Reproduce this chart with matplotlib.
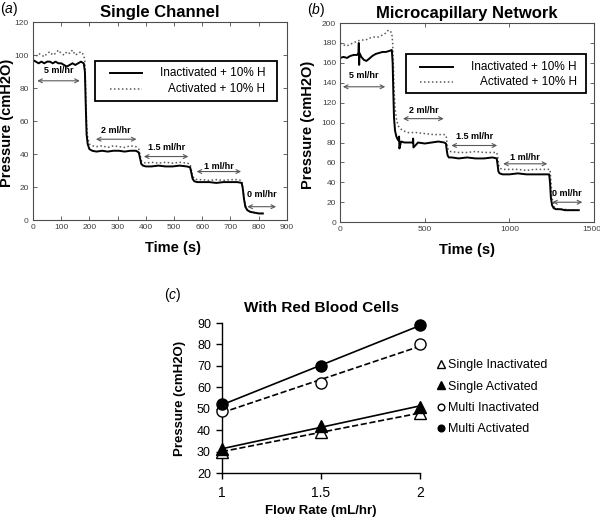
import matplotlib
matplotlib.use("Agg")
import matplotlib.pyplot as plt
import matplotlib.transforms as mtransforms
import numpy as np
from matplotlib.patches import Rectangle

plt.rcParams["font.family"] = ["Liberation Sans", "DejaVu Sans"]
plt.rcParams["mathtext.fontset"] = "custom"
plt.rcParams["mathtext.rm"] = "Liberation Sans"
plt.rcParams["mathtext.it"] = "Liberation Sans:italic"

NARROW = ["Liberation Sans Narrow", "Liberation Sans", "DejaVu Sans"]

# ---------------- (a) single channel ----------------
t_a = [0, 10, 20, 30, 40, 50, 60, 70, 80, 90, 100, 110, 120, 130, 140, 150, 160, 170, 180,
       184, 187, 190, 194, 200, 210, 225, 245, 265, 285, 305, 325, 345, 365,
       375, 379, 384, 390, 400, 420, 445, 470, 495, 520, 545,
       557, 561, 566, 572, 582, 600, 625, 650, 675, 700, 725,
       740, 744, 748, 753, 760, 770, 785, 800, 815]
inact_a = [97, 96, 95, 96, 95, 96, 96, 95, 96, 95, 95, 94, 93, 94, 95, 94, 95, 96, 95,
           90, 70, 52, 46, 43, 42, 41.5, 42, 41.5, 42, 42, 41.5, 42, 42,
           41, 38, 34, 33, 32.5, 32.5, 33, 32.5, 32.5, 33, 32.5,
           32, 29, 25, 23.5, 23, 23, 23, 22.5, 23, 23, 23,
           22.5, 19, 13, 8, 6, 5, 4.5, 4, 4]
act_a = [100, 99, 101, 100, 99, 101, 102, 100, 101, 103, 101, 100, 102, 101, 103, 100, 101, 102, 100,
         96, 78, 58, 50, 46, 45, 44.5, 45, 44, 45, 44.5, 44, 45, 44.5,
         43, 40, 36, 35, 34.5, 35, 34.5, 35, 34.5, 35, 34.5,
         34, 31, 27, 25, 24.5, 24.5, 24, 24.5, 24, 24.5, 24.5,
         24, 20, 14, 9, 6, 5, 4.5, 4, 4]

rate_labels = ["5 ml/hr", "2 ml/hr", "1.5 ml/hr", "1 ml/hr", "0 ml/hr"]
arrow_a_x0 = [15, 223, 393, 580, 760]
arrow_a_x1 = [166, 367, 551, 738, 862]
arrow_a_y = [84.4, 49, 38.5, 29.4, 8.1]
text_a_y = [90.5, 54, 44, 32.4, 15.2]

# ---------------- (b) microcapillary network ----------------
t_b_inact = [0, 20, 40, 60, 80, 100, 108, 110, 112, 114, 125, 140, 155, 170, 190, 210, 230, 250, 270, 290,
             305, 310, 314, 318, 324, 332, 340, 346, 348, 350, 360, 380, 400, 429, 431, 433,
             460, 500, 540, 580, 615, 625, 630, 635, 642, 660, 700, 750, 800, 850, 900,
             925, 930, 935, 942, 960, 1000, 1050, 1100, 1150, 1200,
             1235, 1240, 1245, 1252, 1262, 1275, 1300, 1330, 1360, 1390, 1410]
inact_b = [165, 166, 165, 167, 168, 168, 170, 180, 158, 170, 166, 163, 162, 164, 167, 169, 170, 171, 171, 172,
           173, 160, 130, 105, 92, 86, 83, 82, 86, 74, 81, 80, 80, 80, 84, 75,
           80, 79, 80, 81, 80, 79, 72, 67, 65, 65, 64, 65, 64, 64, 65,
           64, 58, 51, 49, 48, 48, 49, 48, 48, 48,
           48, 40, 25, 17, 14, 13, 13, 12, 12, 12, 12]
t_b_act = [0, 20, 40, 60, 80, 100, 125, 150, 175, 200, 225, 250, 270, 285, 295,
           305, 310, 314, 318, 324, 332, 342, 355, 370, 400, 450, 500, 550, 600, 620,
           628, 633, 640, 650, 700, 750, 800, 850, 900, 925, 932, 937, 945, 960,
           1000, 1050, 1100, 1150, 1200, 1240, 1246, 1252, 1260, 1270, 1290, 1320, 1360, 1400]
act_b = [180, 178, 177, 179, 180, 182, 183, 183, 185, 186, 186, 188, 190, 193, 192,
         190, 180, 160, 135, 115, 104, 97, 94, 92, 90, 90, 89, 88, 88, 88,
         85, 76, 72, 71, 70, 70, 71, 70, 70, 70, 65, 57, 54, 53,
         53, 53, 52, 53, 53, 53, 40, 25, 17, 14, 13, 13, 12, 12]

arrow_b_x0 = [16, 371, 657, 963, 1253]
arrow_b_x1 = [266, 612, 928, 1224, 1431]
arrow_b_y = [136, 104, 77, 58.6, 20]
text_b_y = [147, 112, 86, 65, 29]

# ---------------- (c) with red blood cells ----------------
flow = [1, 1.5, 2]
single_inact = [30, 39, 48]
single_act = [31, 42, 51]
multi_inact = [49, 62, 80]
multi_act = [52, 70, 89]

fig = plt.figure(figsize=(6, 5.19), dpi=100)
ax_a = fig.add_axes([0.055, 0.576, 0.423, 0.3815])
ax_b = fig.add_axes([0.567, 0.572, 0.423, 0.3835])
ax_c = fig.add_axes([0.37, 0.0886, 0.33, 0.289])


def trace_panel(ax, t1, y1, t2, y2, xmax, ymax, xstep, ystep,
                ax0, ax1, ay, ty, title, box, tag):
    ax.plot(t2, y2, color="0.35", lw=1.1, ls=(0, (1, 1.6)))
    ax.plot(t1, y1, color="black", lw=1.4)
    ax.set_xlim(0, xmax)
    ax.set_ylim(0, ymax)
    ax.set_xticks(np.arange(0, xmax + 1, xstep))
    ax.set_yticks(np.arange(0, ymax + 1, ystep))
    ax.tick_params(direction="in", length=3, width=0.6, top=True, right=True,
                   labelsize=6, pad=3, colors="0.3", labelcolor="0.25")
    for lab in ax.get_xticklabels() + ax.get_yticklabels():
        lab.set_family(NARROW)
    for sp in ax.spines.values():
        sp.set_linewidth(0.8)
        sp.set_color("0.3")
    for x0, x1, y, yt, lab in zip(ax0, ax1, ay, ty, rate_labels):
        ax.annotate("", xy=(x0, y), xytext=(x1, y),
                    arrowprops=dict(arrowstyle="<->", lw=0.8, color="0.35",
                                    mutation_scale=7, shrinkA=0, shrinkB=0))
        ax.text((x0 + x1) / 2, yt, lab, ha="center", va="center",
                fontsize=6.5, fontweight="bold")
    ax.set_title(title, fontsize=12, fontweight="bold", pad=4)
    ax.set_xlabel("Time (s)", fontsize=10.5, fontweight="bold")
    ax.set_ylabel("Pressure (cmH2O)", fontsize=10.5, fontweight="bold")

    # boxed legend, labels right aligned as in the original
    bx0, bx1, by0, by1, lx0, lx1, ly1, ly2, tx = box
    ax.add_patch(Rectangle((bx0, by0), bx1 - bx0, by1 - by0, transform=ax.transAxes,
                           facecolor="white", edgecolor="black", lw=1.3, zorder=5))
    ax.plot([lx0, lx1], [ly1, ly1], color="black", lw=1.4, transform=ax.transAxes, zorder=6)
    ax.plot([lx0, lx1], [ly2, ly2], color="0.35", lw=1.1, ls=(0, (1, 1.6)),
            transform=ax.transAxes, zorder=6)
    ax.text(tx, ly1, "Inactivated + 10% H", transform=ax.transAxes, ha="right",
            va="center", fontsize=8.5, zorder=6)
    ax.text(tx, ly2, "Activated + 10% H", transform=ax.transAxes, ha="right",
            va="center", fontsize=8.5, zorder=6)
    ax.text(-0.13, 1.065, tag, transform=ax.transAxes, fontsize=10, ha="left", va="center")


trace_panel(ax_a, t_a, inact_a, t_a, act_a, 900, 120, 100, 20,
            arrow_a_x0, arrow_a_x1, arrow_a_y, text_a_y, "Single Channel",
            (0.244, 0.961, 0.601, 0.803, 0.303, 0.429, 0.744, 0.66, 0.916), "($\\it{a}$)")
ax_a.xaxis.set_label_coords(0.55, -0.105)
ax_a.yaxis.set_label_coords(-0.075, 0.49)

trace_panel(ax_b, t_b_inact, inact_b, t_b_act, act_b, 1500, 200, 500, 20,
            arrow_b_x0, arrow_b_x1, arrow_b_y, text_b_y, "Microcapillary Network",
            (0.26, 0.969, 0.648, 0.844, 0.315, 0.445, 0.78, 0.704, 0.933), "($\\it{b}$)")
ax_b.xaxis.set_label_coords(0.5, -0.105)
ax_b.yaxis.set_label_coords(-0.098, 0.49)
# last tick label sits right at the figure edge, pull it inward a little
last = ax_b.get_xticklabels()[-1]
last.set_ha("right")
last.set_transform(last.get_transform() +
                   mtransforms.ScaledTranslation(5 / 72, 0, fig.dpi_scale_trans))

# ---------------- panel (c) ----------------
series = [
    ("Single Inactivated", single_inact, "^", "white", "--"),
    ("Single Activated", single_act, "^", "black", "-"),
    ("Multi Inactivated", multi_inact, "o", "white", "--"),
    ("Multi Activated", multi_act, "o", "black", "-"),
]
xs = np.array(flow)
for name, vals, mk, fc, ls in series:
    slope, icpt = np.polyfit(xs, vals, 1)
    ax_c.plot(xs, slope * xs + icpt, color="black", lw=1.2, ls=ls, clip_on=False, zorder=2)
for name, vals, mk, fc, ls in series:
    ax_c.plot(xs, vals, ls="none", marker=mk, ms=8 if mk == "o" else 8.5,
              markerfacecolor=fc, markeredgecolor="black", markeredgewidth=1.0,
              label=name, clip_on=False, zorder=3)

ax_c.set_xlim(1, 2)
ax_c.set_ylim(20, 90)
ax_c.set_xticks([1, 1.5, 2])
ax_c.set_xticklabels(["1", "1.5", "2"])
ax_c.set_yticks(range(20, 91, 10))
ax_c.spines["top"].set_visible(False)
ax_c.spines["right"].set_visible(False)
for sp in ("left", "bottom"):
    ax_c.spines[sp].set_linewidth(1.0)
ax_c.tick_params(axis="y", direction="out", length=4, width=1.0, labelsize=9, pad=4)
ax_c.tick_params(axis="x", direction="out", length=4, width=1.0, labelsize=10, pad=5)
ax_c.set_title("With Red Blood Cells", fontsize=11, fontweight="bold", pad=8)
ax_c.set_xlabel("Flow Rate (mL/hr)", fontsize=9.5, fontweight="bold")
ax_c.set_ylabel("Pressure (cmH2O)", fontsize=9.5, fontweight="bold")
ax_c.xaxis.set_label_coords(0.5, -0.213)
ax_c.yaxis.set_label_coords(-0.18, 0.5)
ax_c.legend(loc="upper left", bbox_to_anchor=(0.728, 0.308), bbox_transform=fig.transFigure,
            frameon=False, fontsize=9, markerscale=0.6, handlelength=0.6,
            handletextpad=0.3, labelspacing=0.75, borderpad=0, borderaxespad=0)
fig.text(164 / 600, 1 - 295 / 519, "($\\it{c}$)", fontsize=10, ha="left", va="center")

fig.savefig("out.png", dpi=100)
